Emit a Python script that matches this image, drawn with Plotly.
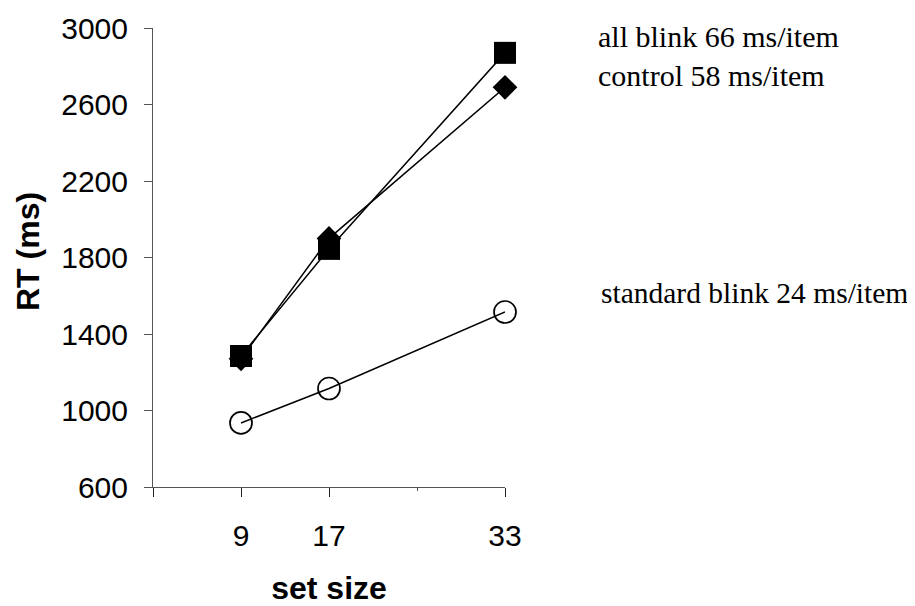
import plotly.graph_objects as go

set_size = [9, 17, 33]
all_blink = [1285, 1845, 2870]
control = [1270, 1900, 2690]
standard_blink = [935, 1115, 1515]

x_tickvals = [1, 9, 17, 33]
x_ticktext = ["", "9", "17", "33"]
x_minor = [25]
y_tickvals = [600, 1000, 1400, 1800, 2200, 2600, 3000]

labels = ["all blink 66 ms/item", "control 58 ms/item", "standard blink 24 ms/item"]

fig = go.Figure()
line = dict(color="black", width=1.5)
fig.add_trace(go.Scatter(x=set_size, y=control, mode="lines+markers", line=line,
                         marker=dict(symbol="diamond", size=19, color="black"),
                         cliponaxis=False, name="control"))
fig.add_trace(go.Scatter(x=set_size, y=all_blink, mode="lines+markers", line=line,
                         marker=dict(symbol="square", size=22, color="black"),
                         cliponaxis=False, name="all blink"))
fig.add_trace(go.Scatter(x=set_size, y=standard_blink, mode="lines+markers", line=line,
                         marker=dict(symbol="circle-open", size=22, color="black",
                                     line=dict(width=1.7, color="black")),
                         cliponaxis=False, name="standard blink"))

serif = "Liberation Serif"
sans = "Liberation Sans"
# plot area: 352 px wide, 459 px tall, page shows figure with 8px offset
fig.add_annotation(text=labels[0], xref="paper", yref="paper", x=(588 - 145) / 352, y=(479 - 28) / 459,
                   xanchor="left", yanchor="middle", showarrow=False,
                   font=dict(family=serif, size=30, color="black"))
fig.add_annotation(text=labels[1], xref="paper", yref="paper", x=(588 - 145) / 352, y=(479 - 67) / 459,
                   xanchor="left", yanchor="middle", showarrow=False,
                   font=dict(family=serif, size=30, color="black"))
fig.add_annotation(text=labels[2], xref="paper", yref="paper", x=(591 - 145) / 352, y=(479 - 285) / 459,
                   xanchor="left", yanchor="middle", showarrow=False,
                   font=dict(family=serif, size=29.5, color="black"))
fig.add_annotation(text="<b>RT (ms)</b>", xref="paper", yref="paper", x=(20 - 145) / 352, y=(479 - 244) / 459,
                   xanchor="center", yanchor="middle", textangle=-90, showarrow=False,
                   font=dict(family=sans, size=32, color="black"))

fig.update_layout(
    width=907, height=598,
    margin=dict(l=145, r=410, t=20, b=119, autoexpand=False),
    paper_bgcolor="white", plot_bgcolor="white",
    showlegend=False,
    font=dict(family=sans, size=30, color="black"),
    xaxis=dict(range=[1, 33], tickvals=x_tickvals, ticktext=x_ticktext,
               showgrid=False, zeroline=False, showline=True, linecolor="#555555",
               linewidth=1, ticks="outside", ticklen=9, tickcolor="#222222",
               tickwidth=1, ticklabelstandoff=13, automargin=False,
               tickfont=dict(family=sans, size=30),
               minor=dict(tickvals=x_minor, ticks="outside", ticklen=3,
                          tickcolor="#555555", showgrid=False),
               title=dict(text="<b>set size</b>", standoff=33,
                          font=dict(family=sans, size=32))),
    yaxis=dict(range=[600, 3000], tickvals=y_tickvals,
               showgrid=False, zeroline=False, showline=True, linecolor="#555555",
               linewidth=1, ticks="outside", ticklen=8, tickcolor="#555555",
               tickwidth=1, ticklabelstandoff=10, automargin=False,
               tickfont=dict(family=sans, size=30)),
)

fig.write_html("out.html")
